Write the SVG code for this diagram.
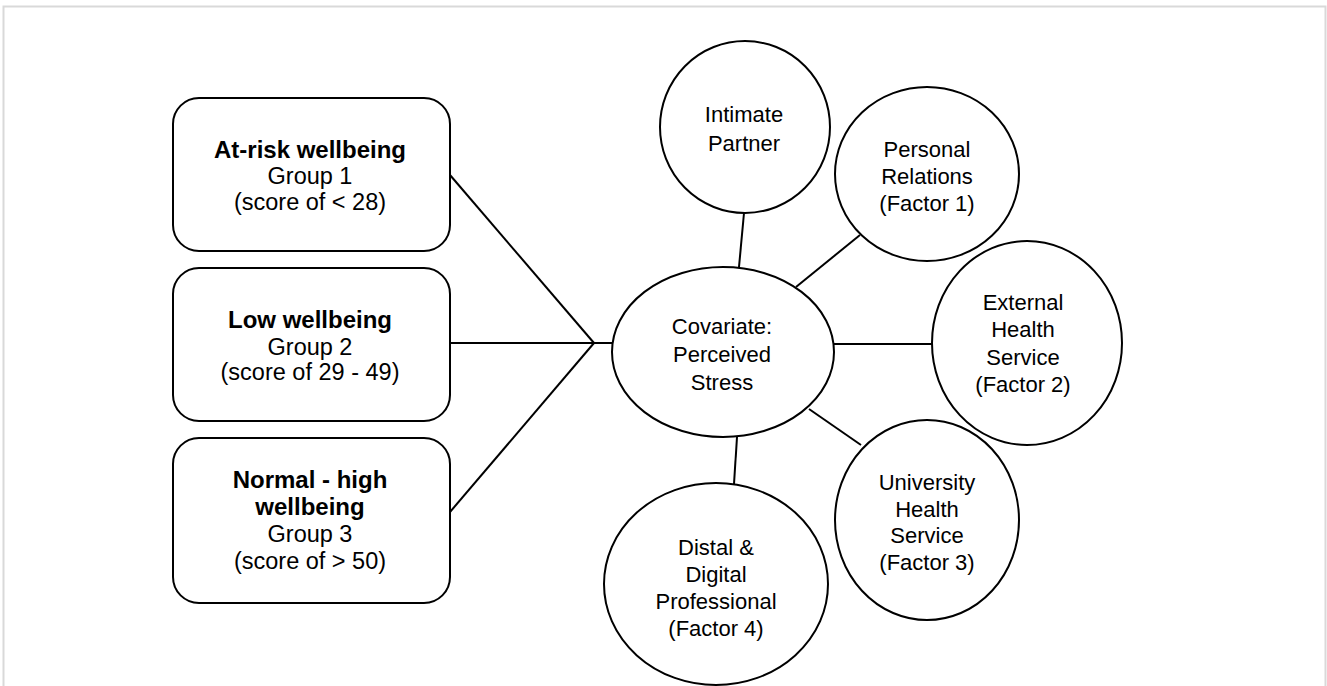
<svg xmlns="http://www.w3.org/2000/svg" width="1327" height="686" viewBox="0 0 1327 686">
<style>
.box{fill:#fff;stroke:#000;stroke-width:2}
.node{fill:#fff;stroke:#000;stroke-width:2}
.edge{stroke:#000;stroke-width:2;fill:none}
text{font-family:"Liberation Sans",Arial,sans-serif;font-size:22px;fill:#000;text-anchor:middle}
.bx{font-size:23.5px}
.b{font-weight:bold;font-size:24px}
</style>
<rect width="1327" height="686" fill="#fff"/>
<path d="M3.5,686 V6.5 H1325.5 V686" fill="none" stroke="#d9d9d9" stroke-width="2"/>
<g id="connectors">
<line class="edge" x1="450" y1="175" x2="594" y2="343"/>
<line class="edge" x1="450" y1="343" x2="594" y2="343"/>
<line class="edge" x1="450" y1="512" x2="594" y2="343"/>
<line class="edge" x1="594" y1="343" x2="613" y2="343"/>
<line class="edge" x1="744" y1="213" x2="739" y2="267"/>
<line class="edge" x1="860" y1="235" x2="796" y2="287"/>
<line class="edge" x1="834" y1="344" x2="932" y2="344"/>
<line class="edge" x1="809" y1="409" x2="861" y2="445"/>
<line class="edge" x1="737" y1="437" x2="734" y2="484"/>
</g>
<g id="group1">
<rect class="box" x="173" y="98" width="277" height="153" rx="26"/>
<text x="310" y="158" class="b">At-risk wellbeing</text>
<text x="310" y="184" class="bx">Group 1</text>
<text x="310" y="210" class="bx">(score of &lt; 28)</text>
</g>
<g id="group2">
<rect class="box" x="173" y="268" width="277" height="153" rx="26"/>
<text x="310" y="328" class="b">Low wellbeing</text>
<text x="310" y="355" class="bx">Group 2</text>
<text x="310" y="380" class="bx">(score of 29 - 49)</text>
</g>
<g id="group3">
<rect class="box" x="173" y="438" width="277" height="165" rx="26"/>
<text x="310" y="488" class="b">Normal - high</text>
<text x="310" y="515" class="b">wellbeing</text>
<text x="310" y="542" class="bx">Group 3</text>
<text x="310" y="569" class="bx">(score of &gt; 50)</text>
</g>
<g id="covariate">
<ellipse class="node" cx="723" cy="352" rx="111" ry="85"/>
<text x="722" y="334">Covariate:</text>
<text x="722" y="362">Perceived</text>
<text x="722" y="390">Stress</text>
</g>
<g id="intimate">
<ellipse class="node" cx="745" cy="127" rx="85" ry="86"/>
<text x="744" y="122">Intimate</text>
<text x="744" y="151">Partner</text>
</g>
<g id="personal">
<ellipse class="node" cx="927" cy="174" rx="92" ry="87"/>
<text x="927" y="157">Personal</text>
<text x="927" y="184">Relations</text>
<text x="927" y="211">(Factor 1)</text>
</g>
<g id="external">
<ellipse class="node" cx="1027" cy="343" rx="95" ry="102"/>
<text x="1023" y="310">External</text>
<text x="1023" y="337">Health</text>
<text x="1023" y="365">Service</text>
<text x="1023" y="392">(Factor 2)</text>
</g>
<g id="university">
<ellipse class="node" cx="927" cy="520" rx="92" ry="100"/>
<text x="927" y="490">University</text>
<text x="927" y="517">Health</text>
<text x="927" y="543">Service</text>
<text x="927" y="570">(Factor 3)</text>
</g>
<g id="distal">
<ellipse class="node" cx="716" cy="584" rx="112" ry="101"/>
<text x="716" y="555">Distal &amp;</text>
<text x="716" y="582">Digital</text>
<text x="716" y="609">Professional</text>
<text x="716" y="636">(Factor 4)</text>
</g>
</svg>
